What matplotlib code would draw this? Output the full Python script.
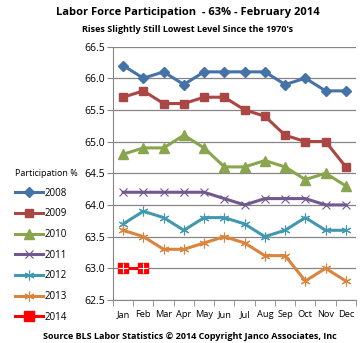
import matplotlib.pyplot as plt

months = ['Jan', 'Feb', 'Mar', 'Apr', 'May', 'Jun', 'Jul', 'Aug', 'Sep', 'Oct', 'Nov', 'Dec']
p2008 = [66.2, 66.0, 66.1, 65.9, 66.1, 66.1, 66.1, 66.1, 65.9, 66.0, 65.8, 65.8]
p2009 = [65.7, 65.8, 65.6, 65.6, 65.7, 65.7, 65.5, 65.4, 65.1, 65.0, 65.0, 64.6]
p2010 = [64.8, 64.9, 64.9, 65.1, 64.9, 64.6, 64.6, 64.7, 64.6, 64.4, 64.5, 64.3]
p2011 = [64.2, 64.2, 64.2, 64.2, 64.2, 64.1, 64.0, 64.1, 64.1, 64.1, 64.0, 64.0]
p2012 = [63.7, 63.9, 63.8, 63.6, 63.8, 63.8, 63.7, 63.5, 63.6, 63.8, 63.6, 63.6]
p2013 = [63.6, 63.5, 63.3, 63.3, 63.4, 63.5, 63.4, 63.2, 63.2, 62.8, 63.0, 62.8]
p2014 = [63.0, 63.0]

plt.rcParams['font.family'] = ['Open Sans', 'DejaVu Sans']

fig = plt.figure(figsize=(3.61, 3.43), dpi=100)
ax = fig.add_axes([0.313, 0.1254, 0.673, 0.739])

x = range(12)
lw = 2.2
ax.plot(x, p2008, color='#4572A7', lw=lw, marker='D', ms=5, label='2008')
ax.plot(x, p2009, color='#AA4643', lw=lw, marker='s', ms=6, label='2009')
ax.plot(x, p2010, color='#89A54E', lw=lw, marker='^', ms=6.5, label='2010')
ax.plot(x, p2011, color='#71588F', lw=lw, marker='x', ms=6, mew=0.8, label='2011')
ax.plot(x, p2012, color='#4198AF', lw=lw, marker=(6, 2, 0), ms=7, mew=0.8, label='2012')
ax.plot(x, p2013, color='#DB843D', lw=lw, marker=(6, 2, 0), ms=7, mew=0.8, label='2013')
ax.plot(range(len(p2014)), p2014, color='#FF0000', lw=lw, marker='s', ms=7, label='2014')
ax.plot(range(len(p2014)), p2014, ls='none', marker='+', ms=7, mew=0.8, color='white')

ax.set_xlim(-0.5, 11.5)
ax.set_ylim(62.5, 66.5)
ax.set_yticks([62.5, 63.0, 63.5, 64.0, 64.5, 65.0, 65.5, 66.0, 66.5])
ax.set_yticklabels(['%.1f' % v for v in ax.get_yticks()], fontsize=7.5)
ax.set_xticks(range(12))
ax.set_xticklabels(months, fontsize=6.7)
ax.set_xticks([i - 0.5 for i in range(13)], minor=True)
ax.tick_params(axis='x', which='major', length=0, pad=7)
ax.tick_params(axis='x', which='minor', length=4, color='#868686')
ax.tick_params(axis='y', length=4, color='#868686', pad=2)
ax.grid(axis='y', color='#868686', lw=0.9)
for s in ['top', 'right']:
    ax.spines[s].set_visible(False)
ax.spines['left'].set_color('#868686')
ax.spines['bottom'].set_color('#868686')

leg = ax.legend(loc='upper left', bbox_to_anchor=(0.028, 0.522), bbox_transform=fig.transFigure,
                frameon=False, fontsize=7, title='Participation %', title_fontsize=6.5,
                handlelength=2.9, labelspacing=1.0, handletextpad=0.1, borderpad=0)
leg._legend_box.align = 'left'

fig.text(0.52, 0.955, 'Labor Force Participation  - 63% - February 2014', ha='center',
         fontsize=8, fontweight='bold')
fig.text(0.52, 0.908, "Rises Slightly Still Lowest Level Since the 1970's", ha='center',
         fontsize=6.5, fontweight='bold')
fig.text(0.12, 0.012, 'Source BLS Labor Statistics \u00a9 2014 Copyright Janco Associates, Inc',
         fontsize=6.5, fontweight='bold')

fig.savefig('out.png', dpi=100)
